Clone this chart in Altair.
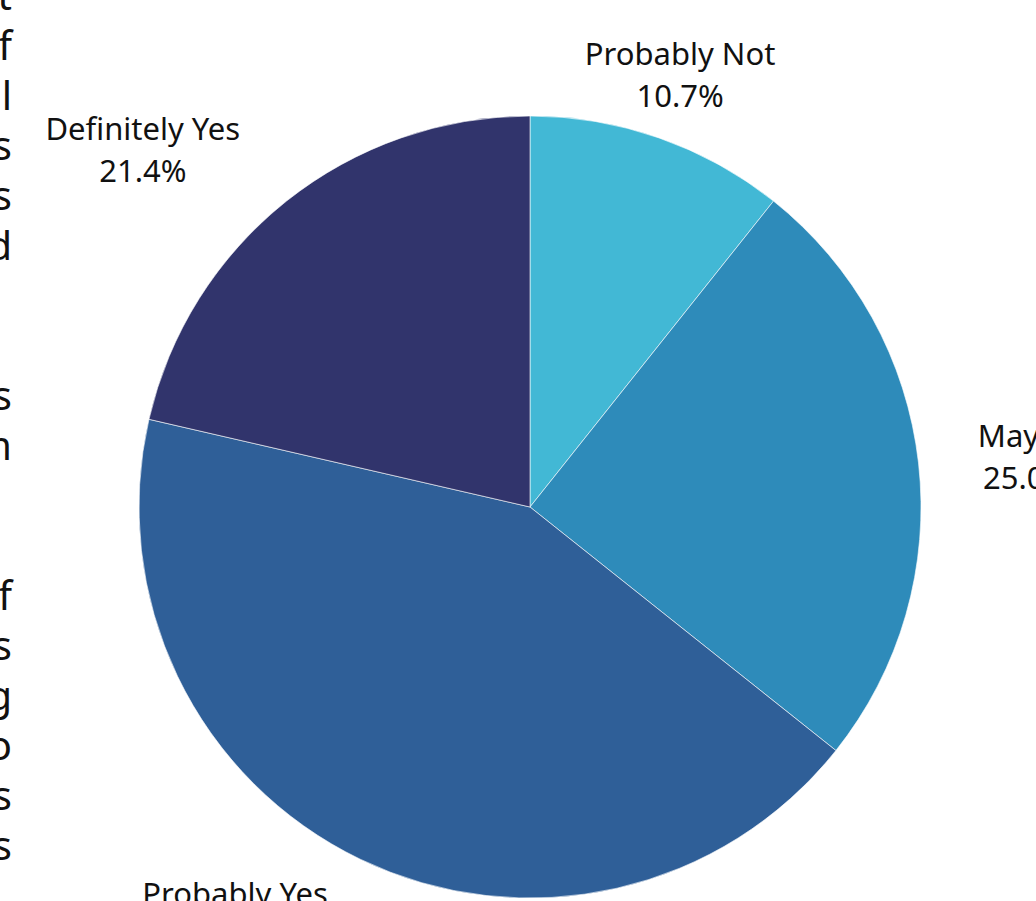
import altair as alt
import pandas as pd

categories = ["Probably Not", "Maybe", "Probably Yes", "Definitely Yes"]
shares = [10.7, 25.0, 42.9, 21.4]
colors = ["#42b8d5", "#2e8bba", "#2f5f98", "#31346c"]

# cropped right-hand ends of a neighbouring text block (line index, glyph)
side_lines = [0, 1, 2, 3, 4, 5, 8, 9, 12, 13, 14, 15, 16, 17]
side_glyphs = ["t", "f", "l", "s", "s", "d", "s", "m", "f", "s", "g", "o", "s", "s"]

df = pd.DataFrame({"cat": categories, "share": shares, "ord": list(range(len(categories)))})
side = pd.DataFrame({"line": side_lines, "glyph": side_glyphs})

CX, CY, R = 530, 507, 391
# label placement (angle offset from slice middle in degrees, radius in px)
lab_off = {"Probably Not": 0, "Maybe": 1, "Probably Yes": 10, "Definitely Yes": -9}
lab_rad = {"Probably Not": 455, "Maybe": 499, "Probably Yes": 505, "Definitely Yes": 525}
off_expr = "{" + ",".join(f"'{k}':{v}" for k, v in lab_off.items()) + "}"
rad_expr = "{" + ",".join(f"'{k}':{v}" for k, v in lab_rad.items()) + "}"

color_scale = alt.Scale(domain=categories, range=colors)

base = alt.Chart(df)

pie = base.mark_arc(radius=R, stroke="white", strokeWidth=0.6).encode(
    theta=alt.Theta("share:Q", stack=True),
    color=alt.Color("cat:N", scale=color_scale, legend=None),
    order=alt.Order("ord:Q"),
    x=alt.value(CX),
    y=alt.value(CY),
)

labels = base.transform_window(
    cum="sum(share)", sort=[alt.SortField("ord")], frame=[None, 0]
).transform_joinaggregate(
    total="sum(share)"
).transform_calculate(
    mid="(datum.cum - datum.share/2) / datum.total * 360",
    ang=f"(datum.mid + {off_expr}[datum.cat]) * PI / 180",
    rr=f"{rad_expr}[datum.cat]",
    lx=f"{CX} + datum.rr * sin(datum.ang)",
    ly=f"{CY} - datum.rr * cos(datum.ang)",
    txt="datum.cat + '\\n' + format(datum.share, '.1f') + '%'",
).mark_text(
    font="Noto Sans", fontSize=31, lineBreak="\n", lineHeight=42, dy=-21,
    align="center", baseline="middle", color="#111111",
).encode(
    x=alt.X("lx:Q", scale=None, axis=None),
    y=alt.Y("ly:Q", scale=None, axis=None),
    text="txt:N",
)

side_text = alt.Chart(side).transform_calculate(
    yy="datum.line * 50 + 10"
).mark_text(
    font="Noto Sans", fontSize=40, align="right", baseline="alphabetic", color="#111111",
).encode(
    x=alt.value(12),
    y=alt.Y("yy:Q", scale=None, axis=None),
    text="glyph:N",
)

chart = alt.layer(pie, labels, side_text).properties(
    width=1036, height=901, autosize=alt.AutoSizeParams(type="none"), padding=0,
    background="white",
).configure_view(stroke=None)

chart.save("out.html", embed_options={"renderer": "svg", "actions": False})
